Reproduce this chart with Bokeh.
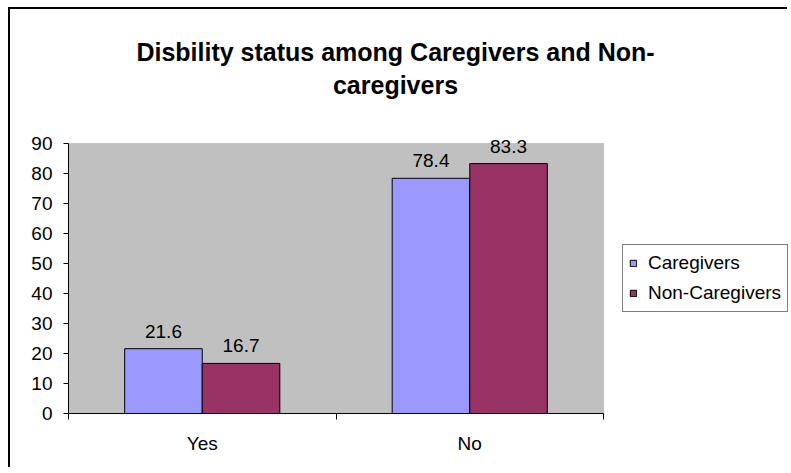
from bokeh.plotting import figure
from bokeh.models import (Range1d, LinearAxis, FixedTicker, ColumnDataSource, LabelSet, Label,
                          Legend, LegendItem, BoxAnnotation)
from bokeh.core.properties import value
from bokeh.transform import dodge
from bokeh.embed import file_html
from bokeh.resources import INLINE

# ---- data ----
title_lines = ["Disbility status among Caregivers and Non-", "caregivers"]
categories = ["Yes", "No"]
series_names = ["Caregivers", "Non-Caregivers"]
caregivers = [21.6, 78.4]
non_caregivers = [16.7, 83.3]
y_ticks = [0, 10, 20, 30, 40, 50, 60, 70, 80, 90]
y_max = 90

FONT = "Liberation Sans"
# layout in window pixels
OX, OY = 10, 9                         # chart border offset (border drawn 2px outside)
PA_L, PA_R, PA_T, PA_B = 68, 603, 143, 413   # grey plot area
W, H = 791 - OX - 2, 473 - OY - 4      # keep a little slack so the page never overflows
RIGHT = OX + W                          # right edge of the figure in the window
BL, BB = PA_L - OX, (OY + H) - PA_B
n = len(categories)

# frame spans from plot-area left/bottom to the right/top edge of the figure,
# ranges extended so that the category block / 0..90 map onto the plot area
x_end = n * (RIGHT - PA_L) / (PA_R - PA_L)
y_end = y_max * (PA_B - OY) / (PA_B - PA_T)

src = ColumnDataSource(dict(
    x=[i + 0.5 for i in range(n)],
    cg=caregivers,
    ncg=non_caregivers,
    cg_txt=[f"{v:g}" for v in caregivers],
    ncg_txt=[f"{v:g}" for v in non_caregivers],
))

p = figure(width=W, height=H, x_range=Range1d(0, x_end), y_range=Range1d(0, y_end),
           output_backend="svg", toolbar_location=None, title=None,
           x_axis_type=None, y_axis_type=None,
           min_border_left=BL, min_border_right=0, min_border_top=0, min_border_bottom=BB)
p.background_fill_color = "white"
p.border_fill_color = "white"
p.outline_line_color = None
p.styles = {"margin-left": f"{OX}px", "margin-top": f"{OY}px",
            "box-shadow": "-2px -2px 0 0 #000000"}

# grey plot area
p.add_layout(BoxAnnotation(left=0, right=n, bottom=0, top=y_max, level="underlay",
                           fill_color="#C0C0C0", fill_alpha=1,
                           line_color="#808080", line_width=1))

# y axis
yax = LinearAxis(ticker=FixedTicker(ticks=y_ticks), bounds=(0, y_max))
yax.axis_line_color = "black"
yax.major_tick_line_color = "black"
yax.major_tick_out = 5
yax.major_tick_in = 0
yax.minor_tick_line_color = None
yax.major_label_text_font = FONT
yax.major_label_text_font_size = "19px"
yax.major_label_text_color = "black"
yax.major_label_standoff = 11
p.add_layout(yax, "left")

# x axis: ticks at category boundaries
xtick = LinearAxis(ticker=FixedTicker(ticks=list(range(n + 1))), bounds=(0, n))
xtick.axis_line_color = "black"
xtick.major_tick_line_color = "black"
xtick.major_tick_out = 6
xtick.major_tick_in = 0
xtick.minor_tick_line_color = None
xtick.major_label_text_font_size = "0px"
xtick.major_label_standoff = 0
p.add_layout(xtick, "below")

# x axis: category labels
xcat = LinearAxis(ticker=FixedTicker(ticks=src.data["x"]),
                  major_label_overrides={x: c for x, c in zip(src.data["x"], categories)})
xcat.axis_line_color = None
xcat.major_tick_line_color = None
xcat.minor_tick_line_color = None
xcat.major_label_text_font = FONT
xcat.major_label_text_font_size = "19px"
xcat.major_label_text_color = "black"
xcat.major_label_standoff = 7
p.add_layout(xcat, "below")

BW = 0.29
r1 = p.vbar(x=dodge("x", -BW / 2), top="cg", width=BW, source=src,
            fill_color="#9999FF", line_color="black", line_width=1)
r2 = p.vbar(x=dodge("x", BW / 2), top="ncg", width=BW, source=src,
            fill_color="#993366", line_color="black", line_width=1)

for fld, txt, off in (("cg", "cg_txt", -BW / 2), ("ncg", "ncg_txt", BW / 2)):
    p.add_layout(LabelSet(x=dodge("x", off), y=fld, text=txt, source=src,
                          text_align="center", text_baseline="alphabetic", y_offset=11,
                          text_font=value(FONT), text_font_size=value("19px"),
                          text_color="black"))

# title (screen units are relative to the frame's bottom-left corner)
for line, base in zip(title_lines, (51, 84)):
    p.add_layout(Label(x=395 - PA_L, y=PA_B - base, x_units="screen", y_units="screen",
                       text=line, text_align="center", text_baseline="alphabetic",
                       text_font=FONT, text_font_size="25px", text_font_style="bold",
                       text_color="black"))

legend = Legend(items=[LegendItem(label=series_names[0], renderers=[r1]),
                       LegendItem(label=series_names[1], renderers=[r2])],
                location=(622 - PA_L, PA_B - 312))
legend.border_line_color = "black"
legend.border_line_width = 1
legend.background_fill_color = "white"
legend.background_fill_alpha = 1
legend.label_text_font = FONT
legend.label_text_font_size = "19px"
legend.label_text_color = "black"
legend.glyph_width = 8
legend.glyph_height = 8
legend.label_standoff = 11
legend.label_height = 24
legend.spacing = 6
legend.padding = 6
legend.margin = 0
p.add_layout(legend)

open("out.html", "w").write(file_html(p, INLINE))
